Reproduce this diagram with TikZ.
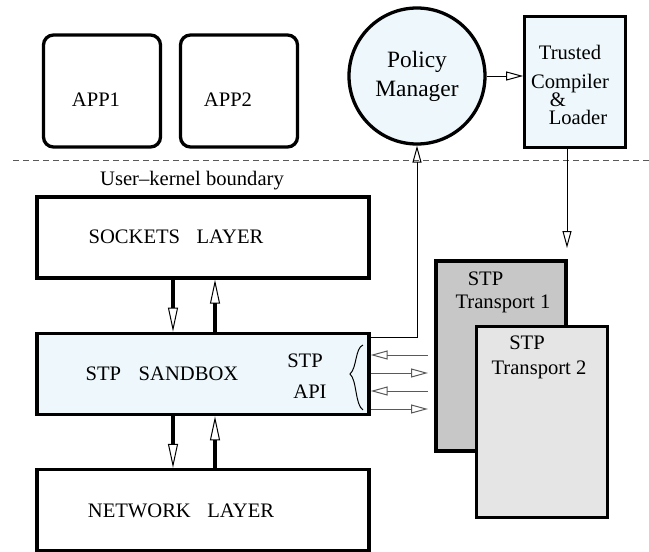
\documentclass[tikz,border=0pt]{standalone}
\usepackage{fontspec}
\setmainfont{Liberation Serif}
\usetikzlibrary{arrows.meta}
\definecolor{lightcyan}{rgb}{0.933,0.973,0.988}
\definecolor{darkslab}{rgb}{0.78,0.78,0.78}
\definecolor{lightslab}{rgb}{0.9,0.9,0.9}
\definecolor{wiregray}{rgb}{0.35,0.35,0.35}

\begin{document}
\begin{tikzpicture}
  [x=0.5pt,y=-0.5pt,>={Triangle[open,length=8.5pt,width=4.5pt]},
   every node/.style={font=\fontsize{10.3}{12}\selectfont},
   box/.style={draw,line width=1.65pt,inner sep=0pt},
   layer/.style={box,minimum width=166pt,minimum height=40.5pt},
   app/.style={box,rounded corners=5pt,minimum width=58.5pt,minimum height=56pt},
   slab/.style={box,minimum width=65pt,minimum height=95pt},
   txt/.style={anchor=base,inner sep=0pt},
   fat/.style={line width=2pt,-{Triangle[open,length=12pt,width=5pt,line width=0.5pt]}},
   wire/.style={line width=0.5pt,->}]

  \useasboundingbox (0,0) rectangle (649,552);

  \node[app] (app1) at (102,91) {};
  \node[app] (app2) at (239,91) {};
  \node[txt] (tapp1) at (96,106) {APP1};
  \node[txt] (tapp2) at (228,106) {APP2};

  \node[box,circle,fill=lightcyan,minimum size=68pt,align=center,
        font=\fontsize{11.7}{14.5}\selectfont] (pm) at (417,76) {Policy\\Manager};
  \node[box,fill=lightcyan,minimum width=50.2pt,minimum height=65.5pt] (tcl) at (575,82) {};
  \node[txt] (ttrust) at (570,59) {Trusted};
  \node[txt] (tcomp) at (570,88) {Compiler};
  \node[txt] (tamp) at (558,106) {\&};
  \node[txt] (tload) at (578,124) {Loader};

  \draw[wiregray,line width=0.5pt,dash pattern=on 3pt off 2pt] (13,160) -- (649,160);
  \node[txt] (tbound) at (192,185) {User--kernel boundary};

  \node[layer] (sockets) at (203,237.5) {};
  \node[layer,fill=lightcyan,minimum height=40.7pt] (sandbox) at (203,374) {};
  \node[layer] (network) at (203,510) {};
  \node[txt] (tsock) at (176,243) {SOCKETS\hspace{0.8em}LAYER};
  \node[txt] (tsand) at (162,380) {STP\hspace{0.85em}SANDBOX};
  \node[txt] (tstp) at (305,367) {STP};
  \node[txt] (tapi) at (310,398) {API};
  \node[txt] (tnet) at (181,517) {NETWORK\hspace{0.8em}LAYER};

  \node[slab,fill=darkslab] (tp1) at (501,356) {};
  \node[slab,fill=lightslab,minimum width=65.5pt,minimum height=95.5pt] (tp2) at (542,422) {};
  \node[txt] (tp1a) at (485.5,285) {STP};
  \node[txt] (tp1b) at (503,308) {Transport 1};
  \node[txt] (tp2a) at (527,349) {STP};
  \node[txt] (tp2b) at (539,374) {Transport 2};

  \coordinate (dn) at (173,0);
  \coordinate (up) at (215,0);
  \coordinate (tx) at (428,0);
  \coordinate (drop) at (567,248);

  \draw[line width=0.5pt] (363,345) .. controls (355,348) and (357,368) .. (350,374)
    .. controls (357,380) and (355,405) .. (363,410);

  \foreach \from/\to in {sockets/sandbox,sandbox/network}
  {
    \draw[fat] (\from.south -| dn) -- (\to.north -| dn);
    \draw[fat] (\to.north -| up) -- (\from.south -| up);
  }
  \foreach \y/\dir in {355/<-,373/->,391/<-,409/->}
    \draw[wire,wiregray,\dir] (sandbox.east |- 0,\y) -- (tx |- 0,\y);

  \draw[wire] (pm.east) -- (pm.east -| tcl.west);
  \draw[wire] (tcl.south -| drop) -- (drop);
  \draw[wire] (sandbox.east |- 0,337) -| (pm.south);
\end{tikzpicture}
\end{document}
